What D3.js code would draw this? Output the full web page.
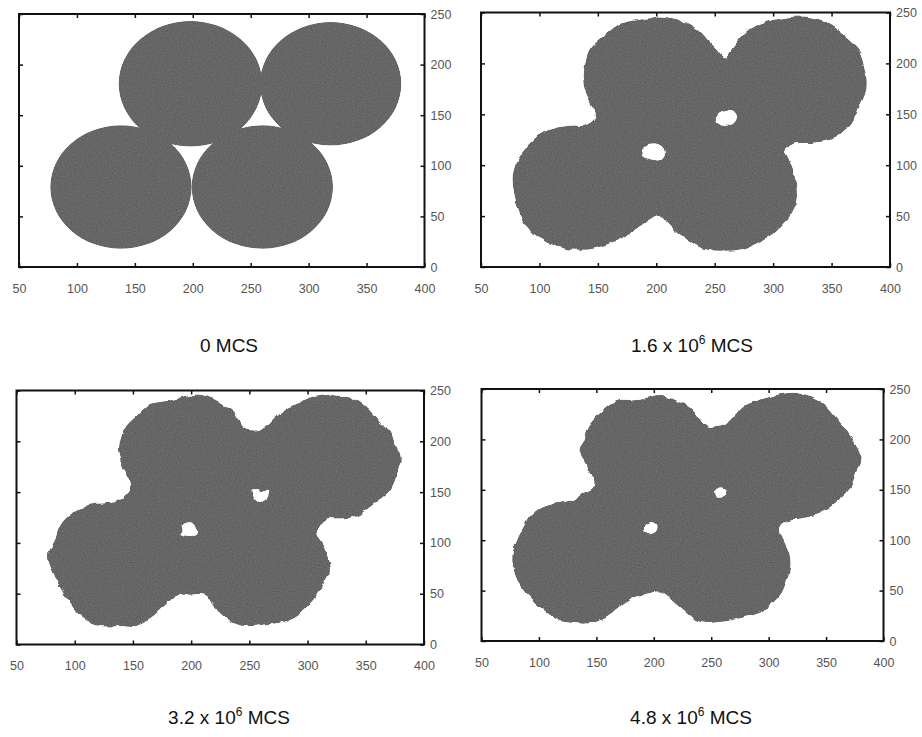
<!DOCTYPE html>
<html>
<head>
<meta charset="utf-8">
<script src="https://cdn.jsdelivr.net/npm/d3@7"></script>
<style>
body { margin: 0; background: #fff; }
svg { display: block; }
.tick text { font-family: "Liberation Sans", Arial, sans-serif; font-size: 12.5px; fill: #555; }
.tick line { stroke: #111; stroke-width: 1.5; }
</style>
</head>
<body>
<script>
var w = 922;
var h = 737;

var xTicks = [50, 100, 150, 200, 250, 300, 350, 400];
var yTicks = [0, 50, 100, 150, 200, 250];

// stage labels: mantissa and power of ten (null = plain number)
var mcsValue = ["0", "1.6", "3.2", "4.8"];
var mcsPower = [null, 6, 6, 6];

// four particles at 0 MCS
var particleX = [138, 260, 198, 319];
var particleY = [79, 79, 181, 181];
var particleR = [61, 61, 62, 61];

// outline of the sintered body at 1.6e6 MCS
var outline16 = [[138,191],[143,213],[157,229],[169,239],[180,242],[192,244],[203,246],[215,244],[226,240],[237,232],[245,222],[252,214],[259,206],[265,214],[272,225],[280,234],[292,240],[306,244],[320,246],[334,245],[346,240],[357,232],[364,224],[373,214],[377,201],[380,184],[379,171],[374,158],[369,145],[360,133],[349,125],[334,122],[317,121],[310,115],[313,107],[317,95],[320,79],[320,66],[316,53],[309,43],[300,33],[289,25],[275,18],[257,16],[240,18],[229,25],[217,35],[209,44],[203,51],[196,48],[186,40],[175,31],[160,23],[146,18],[129,17],[115,20],[103,26],[93,35],[86,45],[82,56],[79,69],[77,86],[79,99],[85,112],[93,123],[103,132],[115,137],[129,139],[139,139],[147,146],[146,155],[142,165],[138,178]];
var pores16 = [
  [[188,115],[192,120],[200,121],[206,117],[207,109],[203,105],[195,106],[188,109]],
  [[251,148],[256,153],[265,154],[269,148],[266,141],[257,139],[252,143]]
];

// 3.2e6 MCS
var outline32 = [[140,182],[138,192],[141,208],[145,216],[153,225],[164,236],[174,239],[185,241],[197,244],[205,246],[215,244],[225,238],[237,228],[245,213],[257,211],[265,215],[274,225],[285,234],[294,239],[305,244],[314,246],[325,244],[337,243],[348,236],[357,226],[365,215],[371,210],[375,198],[380,185],[378,172],[371,152],[362,143],[351,133],[342,126],[328,124],[315,123],[308,111],[312,103],[315,93],[318,84],[320,74],[315,64],[311,54],[305,44],[294,31],[282,23],[265,20],[248,18],[237,21],[228,28],[220,36],[217,41],[211,49],[200,49],[188,48],[177,38],[165,26],[151,18],[140,18],[123,18],[114,21],[105,28],[97,39],[90,51],[83,67],[77,87],[83,103],[87,116],[94,126],[105,133],[114,138],[125,139],[137,141],[147,151],[148,159],[144,167],[140,175]];
var pores32 = [
  [[193,118],[200,120],[205,113],[204,108],[197,107],[191,109],[193,114]],
  [[252,151],[257,153],[261,151],[266,152],[264,144],[260,139],[255,143]]
];

// 4.8e6 MCS
var outline48 = [[136,186],[139,200],[143,213],[153,226],[160,234],[170,239],[185,239],[194,241],[202,244],[214,241],[225,236],[234,230],[240,220],[246,213],[254,213],[263,216],[272,226],[280,234],[292,239],[306,244],[324,246],[338,241],[350,233],[358,223],[367,210],[373,200],[380,183],[377,170],[370,150],[361,140],[350,130],[338,124],[321,120],[313,117],[309,110],[313,100],[318,87],[319,74],[316,61],[311,47],[303,37],[292,28],[277,23],[260,19],[240,19],[228,28],[220,36],[212,44],[205,49],[195,47],[185,44],[170,34],[159,24],[147,18],[127,18],[116,21],[104,31],[94,41],[84,54],[78,71],[77,87],[81,100],[87,114],[93,125],[104,133],[116,137],[130,140],[139,147],[147,152],[149,160],[144,167],[140,177]];
var pores48 = [
  [[192,115],[198,118],[203,114],[202,109],[196,106],[192,109]],
  [[253,150],[260,151],[263,148],[261,143],[254,143]]
];

var outlines = [null, outline16, outline32, outline48];
var pores = [null, pores16, pores32, pores48];

var grey = '#666';

// panel frames in pixels
var frames = [
  {l: 19, r: 424.5, t: 14, b: 267},
  {l: 481, r: 890, t: 12.5, b: 267},
  {l: 16.5, r: 424, t: 390.5, b: 644.5},
  {l: 481.5, r: 883.5, t: 389, b: 641}
];
var titleX = [229, 692, 229, 691];
var titleY = [352, 352, 724, 724];

var svg = d3.select('body').append('svg')
  .attr('width', w)
  .attr('height', h);

// grainy fill (and ragged edges for the sintered shapes)
var defs = svg.append('defs');
function grainFilter(id, ragged) {
  var f = defs.append('filter').attr('id', id)
    .attr('color-interpolation-filters', 'sRGB')
    .attr('x', '-5%').attr('y', '-5%').attr('width', '110%').attr('height', '110%');
  var src = 'SourceGraphic';
  if (ragged) {
    f.append('feTurbulence').attr('type', 'fractalNoise').attr('baseFrequency', 0.14)
      .attr('numOctaves', 1).attr('seed', 7).attr('result', 'warp');
    f.append('feDisplacementMap').attr('in', 'SourceGraphic').attr('in2', 'warp')
      .attr('scale', 5).attr('xChannelSelector', 'R').attr('yChannelSelector', 'G').attr('result', 'shape');
    src = 'shape';
  }
  f.append('feTurbulence').attr('type', 'fractalNoise').attr('baseFrequency', 0.8)
    .attr('numOctaves', 1).attr('seed', 4).attr('result', 'noise');
  f.append('feColorMatrix').attr('in', 'noise').attr('type', 'matrix')
    .attr('values', '1 0 0 0 0  1 0 0 0 0  1 0 0 0 0  0 0 0 0 1').attr('result', 'gnoise');
  f.append('feComposite').attr('in', src).attr('in2', 'gnoise')
    .attr('operator', 'arithmetic').attr('k1', 0).attr('k2', 1).attr('k3', 0.16).attr('k4', -0.08).attr('result', 'mix');
  f.append('feComposite').attr('in', 'mix').attr('in2', src).attr('operator', 'in');
}
grainFilter('grain', false);
grainFilter('rough', true);

frames.forEach(function(f, i) {
  var x = d3.scaleLinear().domain([50, 400]).range([f.l, f.r]);
  var y = d3.scaleLinear().domain([0, 250]).range([f.b, f.t]);
  var g = svg.append('g');

  if (i == 0) {
    g.append('g').attr('filter', 'url(#grain)')
      .selectAll('ellipse')
      .data(particleX)
      .enter().append('ellipse')
      .attr('cx', function(d) { return x(d); })
      .attr('cy', function(d, j) { return y(particleY[j]); })
      .attr('rx', function(d, j) { return x(d + particleR[j]) - x(d); })
      .attr('ry', function(d, j) { return y(particleY[j]) - y(particleY[j] + particleR[j]); })
      .attr('fill', grey);
  } else {
    var line = d3.line()
      .x(function(d) { return x(d[0]); })
      .y(function(d) { return y(d[1]); })
      .curve(d3.curveCatmullRomClosed);
    var path = [outlines[i]].concat(pores[i]).map(line).join('');
    g.append('path')
      .attr('d', path)
      .attr('fill', grey)
      .attr('fill-rule', 'evenodd')
      .attr('filter', 'url(#rough)');
  }

  // axes, ticks inside
  g.append('g')
    .attr('transform', 'translate(0,' + f.b + ')')
    .call(d3.axisBottom(x).tickValues(xTicks).tickSizeInner(-4).tickSizeOuter(0).tickPadding(17))
    .select('.domain').remove();
  g.append('g')
    .attr('transform', 'translate(0,' + f.t + ')')
    .call(d3.axisTop(x).tickValues(xTicks).tickSizeInner(-4).tickSizeOuter(0).tickFormat(''))
    .select('.domain').remove();
  g.append('g')
    .attr('transform', 'translate(' + f.l + ',0)')
    .call(d3.axisLeft(y).tickValues(yTicks).tickSizeInner(-4).tickSizeOuter(0).tickFormat(''))
    .select('.domain').remove();
  g.append('g')
    .attr('transform', 'translate(' + f.r + ',0)')
    .call(d3.axisRight(y).tickValues(yTicks).tickSizeInner(-4).tickSizeOuter(0).tickPadding(6))
    .select('.domain').remove();

  g.append('rect')
    .attr('x', f.l)
    .attr('y', f.t)
    .attr('width', f.r - f.l)
    .attr('height', f.b - f.t)
    .attr('fill', 'none')
    .attr('stroke', '#111')
    .attr('stroke-width', 2);

  var title = svg.append('text')
    .attr('x', titleX[i])
    .attr('y', titleY[i])
    .attr('text-anchor', 'middle')
    .attr('font-family', '"Liberation Sans", Arial, sans-serif')
    .attr('font-size', 19)
    .attr('fill', '#111');
  if (mcsPower[i] == null) {
    title.text(mcsValue[i] + ' MCS');
  } else {
    title.append('tspan').text(mcsValue[i] + ' x 10');
    title.append('tspan').attr('dy', -8).attr('font-size', 12).text(mcsPower[i]);
    title.append('tspan').attr('dy', 8).text(' MCS');
  }
});
</script>
</body>
</html>
